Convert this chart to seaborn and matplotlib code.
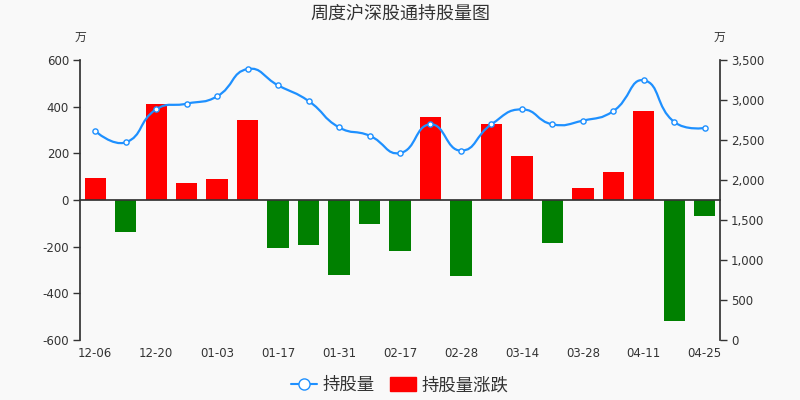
import matplotlib
matplotlib.use("Agg")
import matplotlib.pyplot as plt
from matplotlib.path import Path
from matplotlib.patches import PathPatch, Patch
from matplotlib.lines import Line2D
import numpy as np
import pandas as pd
import seaborn as sns

# weekly dates (only every other one is labelled on the axis)
dates = ["12-06", "12-13", "12-20", "12-27", "01-03", "01-10", "01-17", "01-24",
         "01-31", "02-10", "02-17", "02-21", "02-28", "03-07", "03-14", "03-21",
         "03-28", "04-04", "04-11", "04-18", "04-25"]
# holdings (万), right axis
holdings = [2612, 2471, 2883, 2954, 3046, 3387, 3183, 2987, 2658, 2554, 2337,
            2696, 2367, 2696, 2883, 2696, 2742, 2862, 3246, 2725, 2650]
# weekly change (万), left axis
changes = [93, -138, 411, 71, 91, 345, -206, -193, -323, -104, -217,
           356, -327, 327, 187, -186, 50, 119, 383, -517, -70]

left_ticks = [-600, -400, -200, 0, 200, 400, 600]
right_ticks = [0, 500, 1000, 1500, 2000, 2500, 3000, 3500]

RED = "#ff0000"
GREEN = "#008000"
BLUE = "#1e90ff"
TXT = "#333333"
BG = "#f9f9f9"

sns.set_theme(style="white")
plt.rcParams["font.family"] = ["DejaVu Sans", "Noto Sans CJK SC"]
plt.rcParams.update({
    "figure.facecolor": BG,
    "axes.facecolor": BG,
    "axes.edgecolor": TXT,
    "axes.unicode_minus": False,
    "text.color": TXT,
    "xtick.color": TXT,
    "ytick.color": TXT,
})
CJK = ["Noto Sans CJK SC", "DejaVu Sans"]

df = pd.DataFrame({
    "date": dates,
    "change": changes,
    "sign": ["up" if c >= 0 else "down" for c in changes],
})


def smooth_patch(ax, xs, ys, smooth=0.5, **kw):
    # echarts-like bezier smoothing, computed in screen space
    pts = ax.transData.transform(np.column_stack([xs, ys]))
    n = len(pts)
    cps_in, cps_out = [], []
    for i in range(n):
        p = pts[i]
        if i == 0 or i == n - 1:
            cps_in.append(p)
            cps_out.append(p)
            continue
        v = (pts[i + 1] - pts[i - 1]) * smooth
        d0 = np.hypot(*(p - pts[i - 1]))
        d1 = np.hypot(*(pts[i + 1] - p))
        s = d0 + d1
        d0, d1 = d0 / s, d1 / s
        cps_in.append(p - v * d0)
        cps_out.append(p + v * d1)
    verts = [pts[0]]
    codes = [Path.MOVETO]
    for i in range(n - 1):
        verts += [cps_out[i], cps_in[i + 1], pts[i + 1]]
        codes += [Path.CURVE4] * 3
    verts = ax.transData.inverted().transform(np.array(verts))
    return PathPatch(Path(verts, codes), fill=False, transform=ax.transData, **kw)


fig = plt.figure(figsize=(8, 4), dpi=100)
ax = fig.add_axes([0.1, 0.15, 0.8, 0.7])

sns.barplot(data=df, x="date", y="change", hue="sign",
            palette={"up": RED, "down": GREEN}, dodge=False, width=0.7,
            errorbar=None, legend=False, linewidth=0, saturation=1, ax=ax)

ax.set_xlim(-0.5, len(dates) - 0.5)
ax.set_ylim(-600, 600)
ax.set_yticks(left_ticks)
ax.set_xlabel("")
ax.set_ylabel("")

# category boundary ticks on the zero line
bounds = np.arange(-0.5, len(dates) - 1, 2)
ax.set_xticks(bounds, labels=[""] * len(bounds))
ax.spines["bottom"].set_position(("data", 0))
ax.spines["top"].set_visible(False)
ax.spines["right"].set_visible(False)
ax.tick_params(axis="x", length=5, width=1, direction="out", colors=TXT)
ax.tick_params(axis="y", length=5, width=1, direction="out", labelsize=8.5, pad=3)

sec = ax.secondary_xaxis(0)
sec.set_xticks(range(0, len(dates), 2), labels=dates[::2])
sec.tick_params(length=0, labelsize=8.5, pad=5, colors=TXT)
sec.spines["bottom"].set_visible(False)

ax2 = ax.twinx()
ax2.set_ylim(0, 3500)
ax2.set_yticks(right_ticks, labels=[f"{v:,}" for v in right_ticks])
ax2.tick_params(axis="y", length=5, width=1, direction="out", labelsize=8.5, pad=3)
for side in ["left", "top", "bottom"]:
    ax2.spines[side].set_visible(False)
ax2.spines["right"].set_color(TXT)

ax2.add_patch(smooth_patch(ax2, np.arange(len(holdings)), holdings,
                           smooth=0.5, edgecolor=BLUE, linewidth=1.6, zorder=3))
sns.scatterplot(x=dates, y=holdings, ax=ax2, marker="o", s=14,
                facecolor="white", edgecolor=BLUE, linewidth=1, zorder=4)
ax2.set_ylabel("")

ax.text(0, 1.08, "万", transform=ax.transAxes, ha="center", va="center",
        fontsize=8.5, family=CJK)
ax2.text(0.999, 1.08, "万", transform=ax2.transAxes, ha="center", va="center",
         fontsize=8.5, family=CJK)

fig.text(0.5, 1 - 14 / 400, "周度沪深股通持股量图", ha="center", va="center",
         fontsize=13, color=TXT, family=CJK)

handles = [
    Line2D([0], [0], color=BLUE, lw=1.5, marker="o", markersize=8,
           markerfacecolor="white", markeredgecolor=BLUE, markeredgewidth=1),
    Patch(facecolor=RED, edgecolor=RED),
]
fig.legend(handles, ["持股量", "持股量涨跌"], loc="center", bbox_to_anchor=(0.5, 0.037),
           ncol=2, frameon=False, handlelength=1.5, handleheight=0.85,
           columnspacing=0.9, handletextpad=0.3,
           prop={"family": CJK, "size": 12.5})

fig.savefig("out.png", dpi=100, facecolor=BG)
